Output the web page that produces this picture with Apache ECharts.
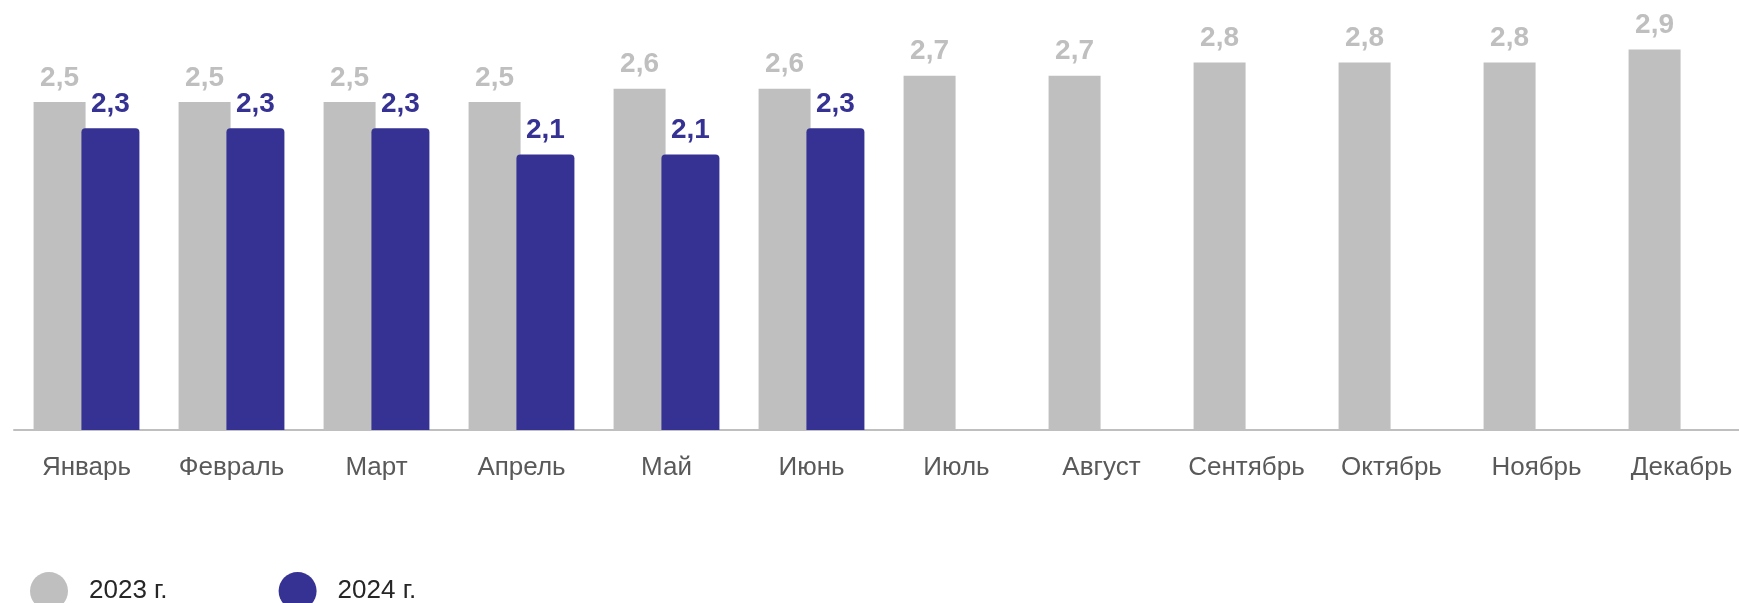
<!DOCTYPE html>
<html>
<head>
<meta charset="utf-8">
<script src="https://cdn.jsdelivr.net/npm/echarts@6/dist/echarts.min.js"></script>
<style>
html,body{margin:0;padding:0;background:#fff;}
#main{width:1739px;height:603px;}
</style>
</head>
<body>
<div id="main"></div>
<script>
const categories = ['Январь','Февраль','Март','Апрель','Май','Июнь','Июль','Август','Сентябрь','Октябрь','Ноябрь','Декабрь'];
const series2023 = [2.5,2.5,2.5,2.5,2.6,2.6,2.7,2.7,2.8,2.8,2.8,2.9];
const series2024 = [2.3,2.3,2.3,2.1,2.1,2.3,null,null,null,null,null,null];
const seriesNames = ['2023 г.','2024 г.'];

const chart = echarts.init(document.getElementById('main'));
const fmt = p => String(p.value).replace('.', ',');
chart.setOption({
  animation:false,
  grid:{left:14, width:1740, top:10, bottom:173, outerBoundsMode:'none', containLabel:false},
  legend:{
    left:25, top:567,
    icon:'circle', itemWidth:38, itemHeight:38, itemGap:111,
    textStyle:{fontFamily:'Liberation Sans', fontSize:26, color:'#262626', padding:[0,0,0,16]},
    data:seriesNames
  },
  xAxis:{
    type:'category', data:categories,
    axisLine:{lineStyle:{color:'#BFBFBF', width:2}},
    axisTick:{show:false},
    axisLabel:{interval:0, hideOverlap:false, fontFamily:'Liberation Sans', fontSize:26, color:'#595959', margin:25}
  },
  yAxis:{type:'value', min:0, max:3.2, show:false, splitLine:{show:false}},
  series:[
    {name:seriesNames[0], type:'bar', data:series2023, barWidth:52, barGap:'-8%',
     itemStyle:{color:'#BFBFBF'},
     label:{show:true, position:'top', distance:10, formatter:fmt, fontFamily:'Liberation Sans', fontWeight:'bold', fontSize:28, color:'#BFBFBF'}},
    {name:seriesNames[1], type:'bar', data:series2024, barWidth:58,
     itemStyle:{color:'#363294', borderRadius:[4,4,0,0]},
     label:{show:true, position:'top', distance:10, formatter:fmt, fontFamily:'Liberation Sans', fontWeight:'bold', fontSize:28, color:'#363294'}}
  ]
});
</script>
</body>
</html>
